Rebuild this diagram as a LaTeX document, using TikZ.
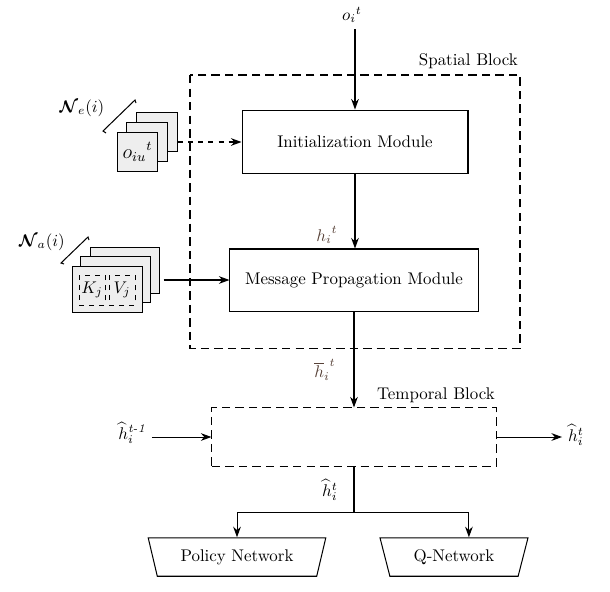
\documentclass[tikz,border=0pt]{standalone}
\usepackage{amsmath}
\usepackage{amssymb}
\usepackage{bm}
\usepackage{xcolor}
\usetikzlibrary{arrows, arrows.meta}
\usetikzlibrary{calc}
\usetikzlibrary{shapes.geometric}

\definecolor{hbrown}{RGB}{88,66,56}
\definecolor{cardgray}{RGB}{238,238,238}

\begin{document}
\begin{tikzpicture}[x=0.0208cm, y=-0.0208cm, line width=0.6pt, >={Stealth[length=2.2mm, width=1.6mm]},
    card/.style={draw, fill=cardgray, inner sep=0pt},
    blockline/.style={dash pattern=on 5pt off 3pt},
    netbox/.style={draw, shape=trapezium, shape border rotate=180, trapezium angle=75, trapezium stretches=true, minimum height=0.8cm}]
      \useasboundingbox (0,0) rectangle (610,591);

      \draw[blockline] (190,75) rectangle (520,348);
      \node[anchor=south east, inner sep=1pt] (spatial) at (520,71) {Spatial Block};

      \node[draw, minimum width=4.7cm, minimum height=1.33cm] (init) at (355,142) {Initialization Module};
      \node[draw, minimum width=5.16cm, minimum height=1.29cm] (mpm) at (354,280) {Message Propagation Module};
      \node[draw, blockline, minimum width=5.91cm, minimum height=1.21cm] (temporal) at (354,437) {};
      \node[anchor=south east, inner sep=1pt] (templabel) at (497,405) {Temporal Block};

      \node[card, minimum width=0.85cm, minimum height=0.83cm] (eback) at (157,132) {};
      \node[card, minimum width=0.85cm, minimum height=0.83cm] (emid) at (147,142) {};
      \node[card, minimum width=0.85cm, minimum height=0.83cm] (efront) at (137.5,152) {\large${o_{iu}}^t$};
      \node (ne) at (82,108) {$\boldsymbol{\mathcal{N}}_e(i)$};
      \draw (106,133) -- (103,131) -- (135,100) -- (136,103);

      \node[card, minimum width=1.44cm, minimum height=0.94cm] (aback) at (125,270.5) {};
      \node[card, minimum width=1.44cm, minimum height=0.94cm] (amid) at (115.5,279.5) {};
      \node[card, minimum width=1.44cm, minimum height=0.94cm] (afront) at (107.5,289.5) {};
      \node[card, dashed, line width=0.4pt, minimum width=0.54cm, minimum height=0.62cm] (kj) at (92,290) {$K_j$};
      \node[card, dashed, line width=0.4pt, minimum width=0.54cm, minimum height=0.62cm] (vj) at (122,290) {$V_j$};
      \node (na) at (42,242) {$\boldsymbol{\mathcal{N}}_a(i)$};
      \draw (64,264) -- (61,263) -- (88,237) -- (89,240);

      \node (oi) at (352,15) {${o_i}^t$};
      \node[text=hbrown] (hi) at (327,235) {${h_i}^t$};
      \node[text=hbrown] (hbar) at (325,370) {${\overline{h}_i}^t$};
      \node (hhat) at (330,490) {${\widehat{h}_i}^t$};
      \node (hprev) at (132,433) {${\widehat{h}_i}^{\textit{t-1}}$};
      \node (hout) at (576,435) {${\widehat{h}_i}^t$};

      \node[netbox, minimum width=3.7cm] (policy) at (237,557) {Policy Network};
      \node[netbox, minimum width=3.08cm] (qnet) at (454,557) {Q-Network};

      \draw[->] (init.north |- oi.south) -- (init.north);
      \draw[->, dashed] (eback.east |- init.west) -- (init.west);
      \draw[->] (init.south) -- (init.south |- mpm.north);
      \draw[->] ([xshift=2pt]aback.east |- mpm.west) -- (mpm.west);
      \draw[->] (mpm.south) -- (mpm.south |- temporal.north);
      \draw[->] (hprev.east |- temporal.west) -- (temporal.west);
      \draw[->] (temporal.east) -- (temporal.east -| hout.west);
      \draw (temporal.south) -- ++(0,46) coordinate (split);
      \draw[->] (split) -| (policy.north);
      \draw[->] (split) -| ([xshift=0.31cm]qnet.north);
    \end{tikzpicture}
\end{document}
